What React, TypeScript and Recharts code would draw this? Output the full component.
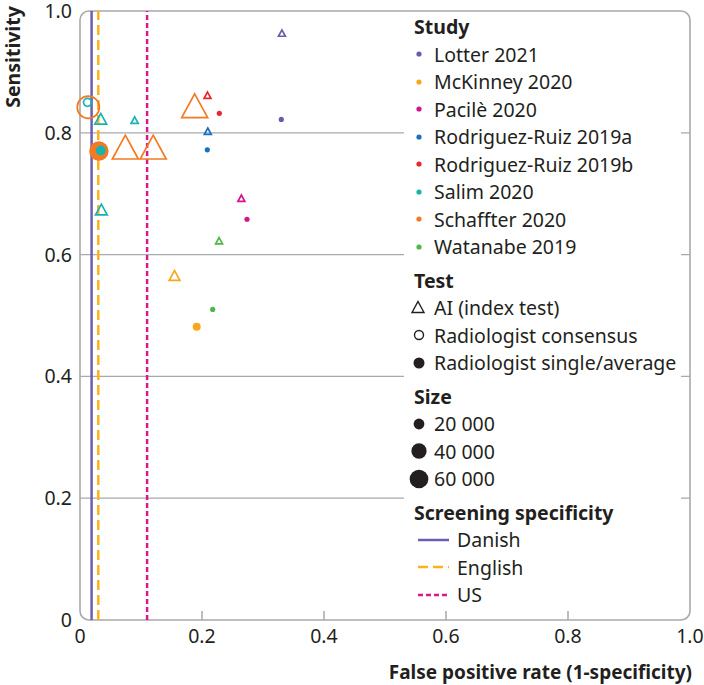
import React from "react";
import { ScatterChart, Scatter, XAxis, YAxis, ReferenceLine, ReferenceArea, Label } from "recharts";

const studies = [
  "Lotter 2021",
  "McKinney 2020",
  "Pacilè 2020",
  "Rodriguez-Ruiz 2019a",
  "Rodriguez-Ruiz 2019b",
  "Salim 2020",
  "Schaffter 2020",
  "Watanabe 2019",
];
const studyColors = ["#6a5bad", "#f9a61a", "#d4148c", "#1a6fbf", "#e8262d", "#16b3b3", "#f37a22", "#4bb848"];

// [study index, false positive rate, sensitivity, women screened]
const aiPoints = [
  [0, 0.331, 0.962, 4800],
  [1, 0.155, 0.563, 11500],
  [2, 0.2645, 0.691, 4800],
  [3, 0.2095, 0.801, 4800],
  [4, 0.209, 0.86, 4800],
  [5, 0.034, 0.82, 13900],
  [5, 0.0896, 0.819, 5200],
  [5, 0.035, 0.671, 13900],
  [6, 0.0743, 0.77, 68000],
  [6, 0.12, 0.77, 68000],
  [6, 0.188, 0.838, 68000],
  [7, 0.228, 0.621, 4800],
];
const consensusPoints = [
  [6, 0.0136, 0.842, 68000],
  [5, 0.0123, 0.85, 8800],
];
const singlePoints = [
  [0, 0.33, 0.822, 4800],
  [1, 0.1913, 0.4816, 11500],
  [2, 0.2738, 0.658, 4800],
  [3, 0.2087, 0.772, 4800],
  [4, 0.2284, 0.832, 4800],
  [6, 0.031, 0.77, 68000],
  [5, 0.034, 0.771, 17000],
  [7, 0.2175, 0.51, 4800],
];

const testTypes = ["AI (index test)", "Radiologist consensus", "Radiologist single/average"];
const sizeLegend = [20000, 40000, 60000];

const screeningNames = ["Danish", "English", "US"];
const screeningFpr = [0.019, 0.03, 0.11];
const screeningColors = ["#6a5fb0", "#fbb31a", "#d9178f"];
const screeningDash = ["", "10 5", "5 3"];

const axisTicks = [0, 0.2, 0.4, 0.6, 0.8, 1];
const gridValues = [0.2, 0.4, 0.6, 0.8];

const FONT = "'Noto Sans', sans-serif";
const FS = 19.5;
const INK = "#231f20";
const GRID = "#a9a9ae";

const toRows = (pts: number[][]) => pts.map(([study, fpr, sens, n]) => ({ study, fpr, sens, n }));

const sizeRadius = (n: number) => 6 * Math.sqrt(n / 20000);

function TriangleShape(props: any) {
  const { cx, cy, payload } = props;
  const r = sizeRadius(payload.n);
  const w = 1.175 * r;
  const h = 2.15 * r;
  const top = cy - (2 / 3) * h;
  const bottom = cy + h / 3;
  return (
    <path
      d={`M${cx},${top}L${cx + w},${bottom}L${cx - w},${bottom}Z`}
      fill="none"
      stroke={studyColors[payload.study]}
      strokeWidth={1.7}
    />
  );
}

function OpenCircle(props: any) {
  const { cx, cy, payload } = props;
  return <circle cx={cx} cy={cy} r={sizeRadius(payload.n)} fill="none" stroke={studyColors[payload.study]} strokeWidth={1.7} />;
}

function FilledCircle(props: any) {
  const { cx, cy, payload } = props;
  return <circle cx={cx} cy={cy} r={0.88 * sizeRadius(payload.n)} fill={studyColors[payload.study]} />;
}

function XTick(props: any) {
  const { x, y, payload } = props;
  const v = payload.value;
  return (
    <g>
      {v > 0 && v < 1 && <line x1={x} x2={x} y1={y} y2={y - 9} stroke={GRID} strokeWidth={1.5} />}
      <text x={x} y={y + 16} dy="0.35em" textAnchor="middle" fill={INK} fontSize={FS} fontFamily={FONT}>
        {v === 0 ? "0" : v.toFixed(1)}
      </text>
    </g>
  );
}

function Legend() {
  const rowH = 27.5;
  const header = (t: string, first?: boolean) => (
    <div style={{ height: rowH, marginTop: first ? 0 : 6, display: "flex", alignItems: "center", paddingLeft: 10, fontWeight: 700 }}>
      {t}
    </div>
  );
  const row = (marker: React.ReactNode, t: string, markerW = 30, gap = 0, pad = 0) => (
    <div key={t} style={{ height: rowH, display: "flex", alignItems: "center", paddingLeft: pad }}>
      <svg width={markerW} height={24} style={{ marginRight: gap, flex: "none" }}>
        {marker}
      </svg>
      <span style={{ whiteSpace: "nowrap" }}>{t}</span>
    </div>
  );
  return (
    <div
      style={{
        position: "absolute",
        left: 404,
        top: 13,
        width: 277,
        height: 597,
        background: "#fff",
        fontFamily: FONT,
        fontSize: FS,
        lineHeight: 1,
        color: INK,
      }}
    >
      {header("Study", true)}
      {studies.map((s, i) => row(<circle cx={15} cy={12} r={2.6} fill={studyColors[i]} />, s))}
      {header("Test")}
      {row(<path d="M14,5.5L20,16.5L8,16.5Z" fill="none" stroke={INK} strokeWidth={1.4} />, testTypes[0])}
      {row(<circle cx={15} cy={12} r={4.5} fill="none" stroke={INK} strokeWidth={1.4} />, testTypes[1])}
      {row(<circle cx={15} cy={12} r={5.5} fill={INK} />, testTypes[2])}
      {header("Size")}
      {sizeLegend.map((n) =>
        row(<circle cx={15} cy={12} r={0.9 * sizeRadius(n)} fill={INK} />, n.toLocaleString("en-US").replace(",", " "))
      )}
      {header("Screening specificity")}
      {screeningNames.map((s, i) =>
        row(
          <line x1={0} x2={31} y1={12} y2={12} stroke={screeningColors[i]} strokeWidth={2.5} strokeDasharray={screeningDash[i] || undefined} />,
          s,
          31,
          8,
          14
        )
      )}
    </div>
  );
}

export default function App() {
  return (
    <div style={{ position: "absolute", left: 0, top: 0, width: 704, height: 685, background: "#fff" }}>
      <ScatterChart width={704} height={685} margin={{ top: 11, right: 14, bottom: 0, left: 0 }}>
        <XAxis
          type="number"
          dataKey="fpr"
          domain={[0, 1]}
          ticks={axisTicks}
          height={65}
          axisLine={false}
          tickLine={false}
          tickSize={0}
          tickMargin={0}
          tick={<XTick />}
          interval={0}
        >
          <Label
            content={({ viewBox }: any) => (
              <text
                x={viewBox.x + viewBox.width + 2}
                y={viewBox.y + 52}
                dy="0.35em"
                textAnchor="end"
                fontFamily={FONT}
                fontWeight={700}
                fontSize={19}
                fill={INK}
              >
                False positive rate (1-specificity)
              </text>
            )}
          />
        </XAxis>
        <YAxis
          type="number"
          dataKey="sens"
          domain={[0, 1]}
          ticks={axisTicks}
          width={80}
          axisLine={false}
          tickLine={false}
          tickSize={0}
          tickMargin={8}
          interval={0}
          tickFormatter={(v: number) => (v === 0 ? "0" : v.toFixed(1))}
          tick={{ fill: INK, fontSize: FS, fontFamily: FONT }}
        >
          <Label
            content={({ viewBox }: any) => (
              <text
                x={13}
                y={viewBox.y + 46}
                dy="0.35em"
                textAnchor="middle"
                transform={`rotate(-90 13 ${viewBox.y + 46})`}
                fontFamily={FONT}
                fontWeight={700}
                fontSize={FS}
                fill={INK}
              >
                Sensitivity
              </text>
            )}
          />
        </YAxis>
        {gridValues.map((v) => (
          <ReferenceLine key={v} y={v} stroke={GRID} strokeWidth={1.3} />
        ))}
        <ReferenceArea
          x1={0}
          x2={1}
          y1={0}
          y2={1}
          shape={(p: any) => (
            <rect x={p.x} y={p.y} width={p.width} height={p.height} rx={9} ry={9} fill="none" stroke={GRID} strokeWidth={1.6} />
          )}
        />
        <Scatter data={toRows(aiPoints)} shape={TriangleShape} isAnimationActive={false} />
        <Scatter data={toRows(consensusPoints)} shape={OpenCircle} isAnimationActive={false} />
        <Scatter data={toRows(singlePoints)} shape={FilledCircle} isAnimationActive={false} />
        {screeningNames.map((s, i) => (
          <ReferenceLine
            key={s}
            x={screeningFpr[i]}
            stroke={screeningColors[i]}
            strokeWidth={2.5}
            strokeDasharray={screeningDash[i] || undefined}
          />
        ))}
      </ScatterChart>
      <Legend />
    </div>
  );
}
